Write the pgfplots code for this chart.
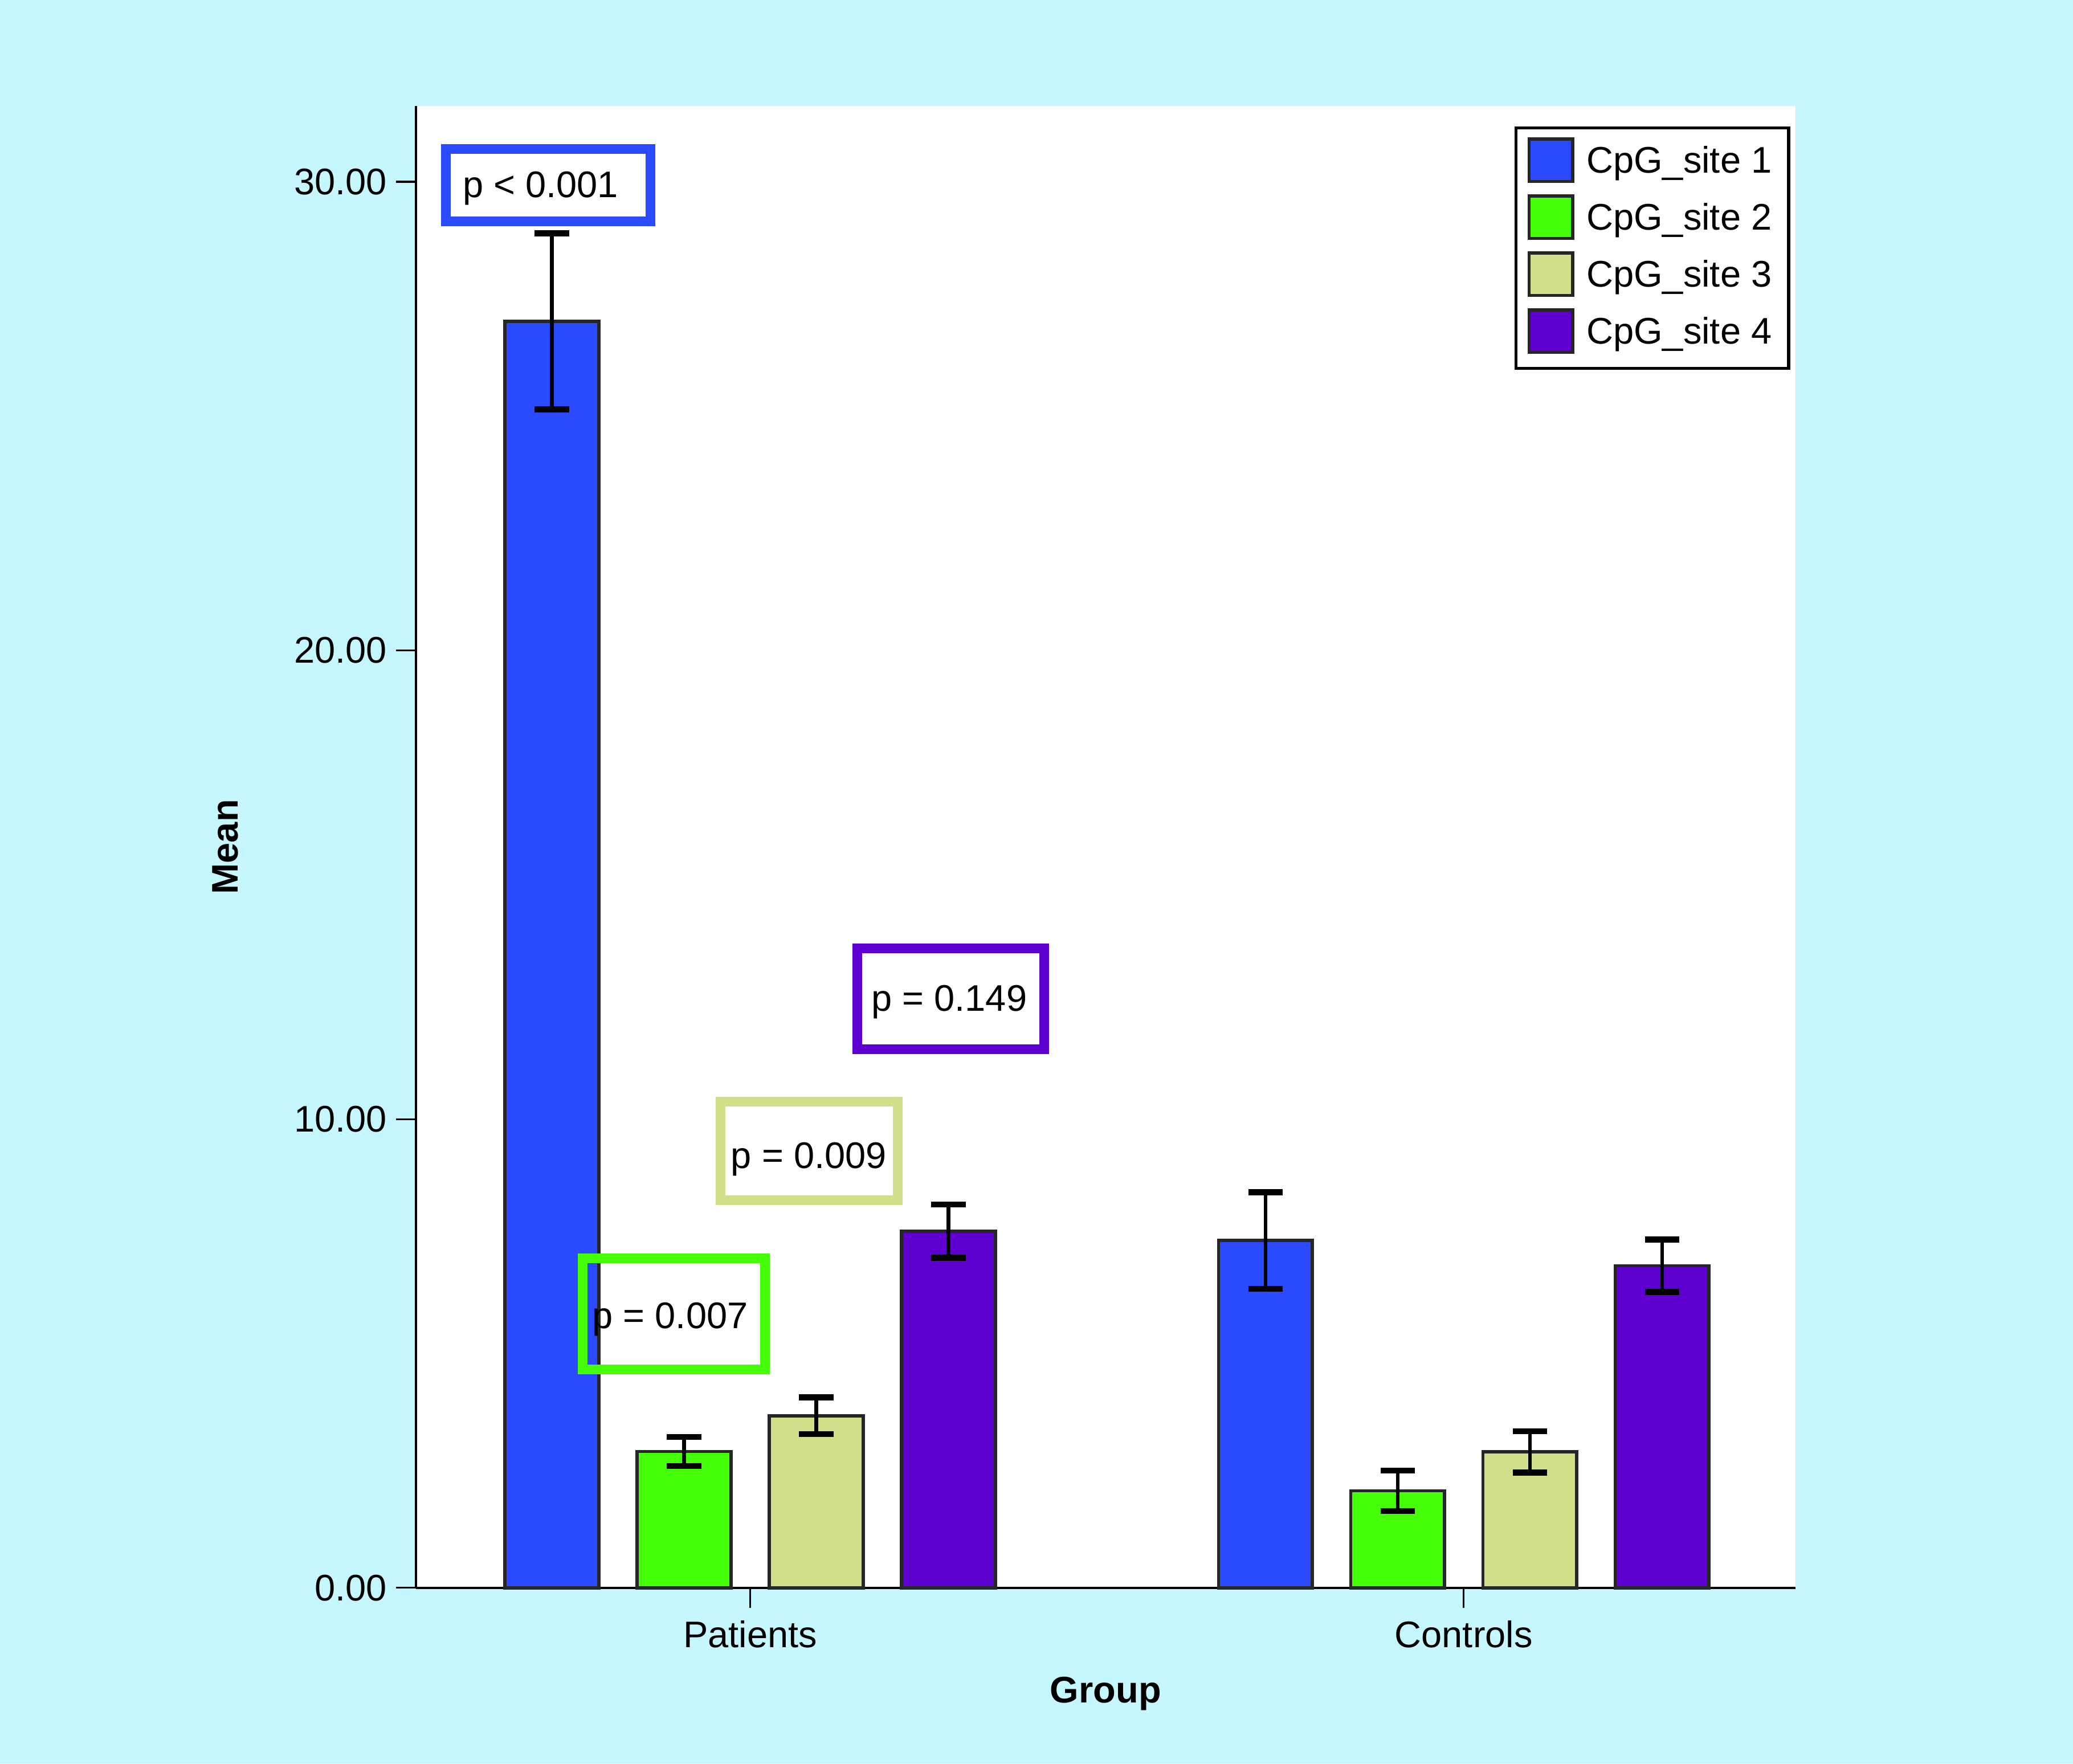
\documentclass[border=0pt]{standalone}
\usepackage{fontspec}
\setmainfont{Liberation Sans}
\usepackage{pgfplots}
\pgfplotsset{compat=1.18}
\definecolor{bgc}{RGB}{198,247,254}
\definecolor{c1}{RGB}{42,74,255}
\definecolor{c2}{RGB}{68,255,8}
\definecolor{c3}{RGB}{211,223,136}
\definecolor{c4}{RGB}{94,0,208}
\pgfplotsset{ybar legend/.style={legend image code/.code={\draw[##1,line width=1.2pt] (0pt,-6.7pt) rectangle (16.5pt,9.45pt);}}}
\begin{document}
\begin{tikzpicture}
\fill[bgc] (0,0) rectangle (784pt,667pt);
\begin{axis}[
  at={(157.3pt,66.45pt)}, anchor=south west,
  scale only axis, width=521.7pt, height=560.5pt,
  ybar=14.5pt, bar width=35.5pt,
  xmin=-0.4685, xmax=1.4648, ymin=0, ymax=31.62,
  axis x line=bottom, axis y line=left,
  axis line style={-, line width=0.9pt, black},
  axis background/.style={fill=white},
  xtick={0,1}, xticklabels={Patients,Controls},
  ytick={0,10,20,30}, yticklabels={0.00,10.00,20.00,30.00},
  tick align=outside, major tick length=7.5pt,
  tick style={black, line width=0.7pt},
  ticklabel style={font=\fontsize{14}{16}\selectfont},
  xticklabel style={yshift=-1.5pt},
  xlabel={Group}, ylabel={Mean},
  label style={font=\bfseries\fontsize{14}{16}\selectfont},
  xlabel style={at={(axis description cs:0.5,-0.0715)}, anchor=center},
  ylabel style={at={(axis description cs:-0.138,0.5)}, anchor=center},
  legend style={at={(0.9962,0.9862)}, anchor=north east, draw=black, line width=1.1pt, fill=white,
    font=\fontsize{14}{16}\selectfont, inner xsep=4.4pt, inner ysep=3.6pt, row sep=2.5pt,
    nodes={inner sep=2pt, text height=10.5pt, text depth=3.5pt},
    /tikz/every odd column/.append style={column sep=2.6pt}},
  legend cell align=left,
  error bars/y dir=both, error bars/y explicit,
  error bars/error bar style={line width=1.4pt, black},
  error bars/error mark options={rotate=90, mark size=6.5pt, line width=2.3pt, black},
  clip=false,
]
\addplot[fill=c1, draw=black!85, line width=1.2pt] coordinates {(0,27.02) +- (0,1.88) (1,7.41) +- (0,1.03)};
\addlegendentry{CpG\_site 1}
\addplot[fill=c2, draw=black!85, line width=1.2pt] coordinates {(0,2.91) +- (0,0.31) (1,2.07) +- (0,0.43)};
\addlegendentry{CpG\_site 2}
\addplot[fill=c3, draw=black!85, line width=1.2pt] coordinates {(0,3.67) +- (0,0.39) (1,2.90) +- (0,0.44)};
\addlegendentry{CpG\_site 3}
\addplot[fill=c4, draw=black!85, line width=1.2pt] coordinates {(0,7.61) +- (0,0.57) (1,6.87) +- (0,0.56)};
\addlegendentry{CpG\_site 4}
\draw[c1, line width=3.6pt] (axis cs:-0.4267,29.16) rectangle (axis cs:-0.140,30.70);
\node[anchor=base west, font=\fontsize{14}{16}\selectfont, inner sep=0pt] at (axis cs:-0.4035,29.67) {p < 0.001};
\draw[c4, line width=3.6pt] (axis cs:0.1498,11.49) rectangle (axis cs:0.412,13.64);
\node[anchor=base, font=\fontsize{14}{16}\selectfont, inner sep=0pt] at (axis cs:0.279,12.30) {p = 0.149};
\draw[c3, line width=3.6pt] (axis cs:-0.0415,8.27) rectangle (axis cs:0.207,10.375);
\node[anchor=base, font=\fontsize{14}{16}\selectfont, inner sep=0pt] at (axis cs:0.082,8.956) {p = 0.009};
\draw[c2, line width=3.6pt] (axis cs:-0.2346,4.66) rectangle (axis cs:0.0209,7.03);
\node[anchor=base, font=\fontsize{14}{16}\selectfont, inner sep=0pt] at (axis cs:-0.1122,5.53) {p = 0.007};
\end{axis}
\end{tikzpicture}
\end{document}
